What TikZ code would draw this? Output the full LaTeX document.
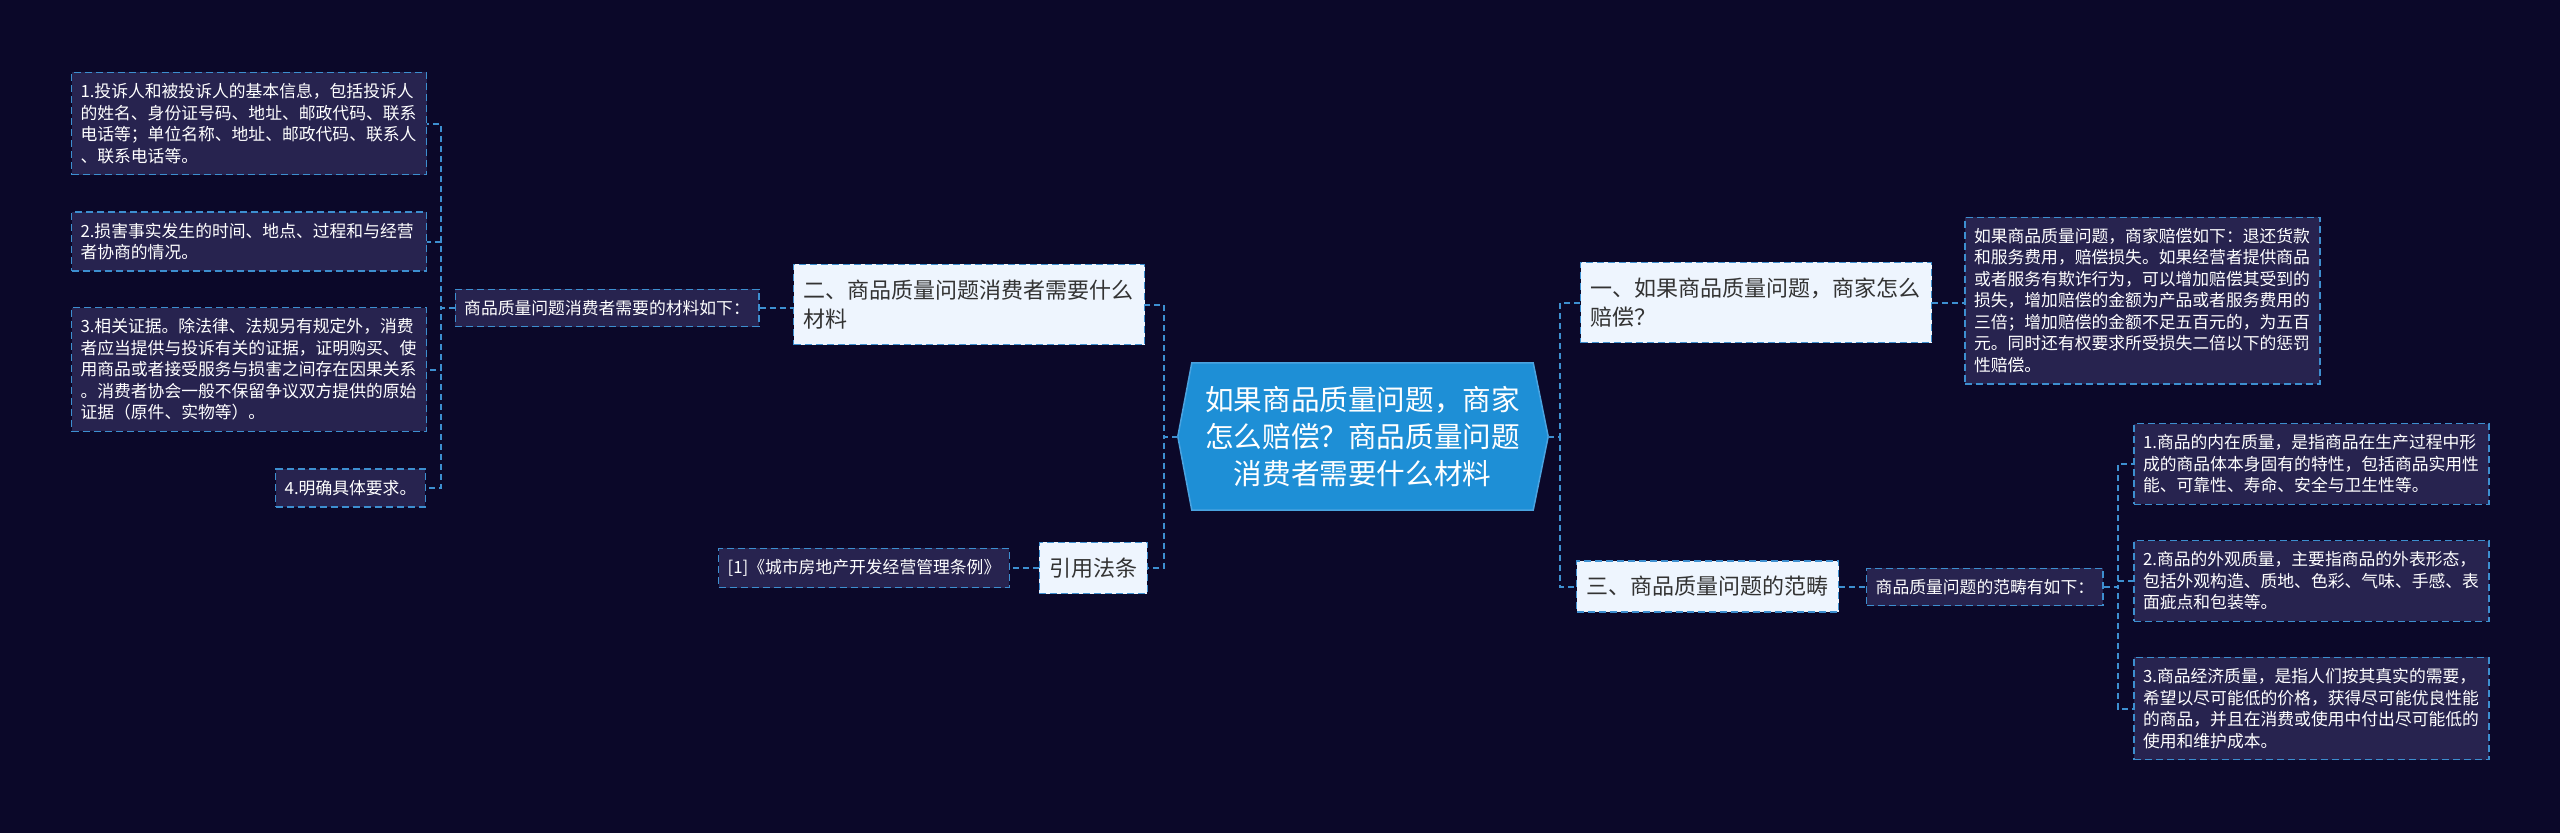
\documentclass[tikz,border=0pt]{standalone}
\usepackage{fontspec}
\setmainfont{Noto Sans CJK SC}
\usetikzlibrary{backgrounds}
\definecolor{bgnavy}{HTML}{0B0829}
\definecolor{leafbg}{HTML}{27234F}
\definecolor{topicbg}{HTML}{EEF5FE}
\definecolor{edgeblue}{HTML}{3D8FD0}
\definecolor{rootblue}{HTML}{1E8FD6}
\definecolor{rootedge}{HTML}{4AA3E0}
\definecolor{topictext}{HTML}{333333}
\begin{document}
\begin{tikzpicture}[x=1pt,y=-1pt,
  leaf/.style={draw=edgeblue,line width=1.4pt,dash pattern=on 7pt off 4pt,fill=leafbg,text=white,font=\fontsize{16.8}{21.5}\selectfont,inner xsep=9pt,inner ysep=11pt,align=left},
  topic/.style={draw=edgeblue,line width=1.4pt,dash pattern=on 7pt off 4pt,fill=topicbg,text=topictext,font=\fontsize{22}{29}\selectfont,inner xsep=10pt,inner ysep=15.5pt,align=left},
  rootnode/.style={text=white,font=\fontsize{28.6}{37}\selectfont,align=center,text width=316pt,minimum width=341pt,minimum height=147pt,inner sep=0pt},
  branch/.style={draw=edgeblue,line width=2pt,dash pattern=on 6pt off 4pt}]
  \useasboundingbox (0,0) rectangle (2560,833);
  \begin{scope}[on background layer]
    \fill[bgnavy] (0,0) rectangle (2560,833);
  \end{scope}
  \node[rootnode] (root) at (1362.5,436.5) {如果商品质量问题，商家\\怎么赔偿？商品质量问题\\消费者需要什么材料};
  \begin{scope}[on background layer]
    \filldraw[fill=rootblue,draw=rootedge,line width=1.5pt] (root.north west) -- (root.north east) -- ([xshift=15pt]root.east) -- (root.south east) -- (root.south west) -- ([xshift=-14pt]root.west) -- cycle;
  \end{scope}
  \coordinate (rootR) at ([xshift=15pt]root.east);
  \coordinate (rootL) at ([xshift=-14pt]root.west);
  \node[topic,text width=331pt] (t1) at (1756,302.5) {一、如果商品质量问题，商家怎么\\赔偿？};
  \node[leaf,text width=337pt] (d1) at (2142.5,300.5) {如果商品质量问题，商家赔偿如下：退还货款\\和服务费用，赔偿损失。如果经营者提供商品\\或者服务有欺诈行为，可以增加赔偿其受到的\\损失，增加赔偿的金额为产品或者服务费用的\\三倍；增加赔偿的金额不足五百元的，为五百\\元。同时还有权要求所受损失二倍以下的惩罚\\性赔偿。};
  \node[topic,anchor=west] (t3) at (1576,586.5) {三、商品质量问题的范畴};
  \node[leaf,anchor=west] (d3) at (1866,587) {商品质量问题的范畴有如下：};
  \node[leaf,text width=337pt] (r1) at (2311.5,464) {1.商品的内在质量，是指商品在生产过程中形\\成的商品体本身固有的特性，包括商品实用性\\能、可靠性、寿命、安全与卫生性等。};
  \node[leaf,text width=337pt] (r2) at (2311.5,581) {2.商品的外观质量，主要指商品的外表形态，\\包括外观构造、质地、色彩、气味、手感、表\\面疵点和包装等。};
  \node[leaf,text width=337pt] (r3) at (2311.5,708.5) {3.商品经济质量，是指人们按其真实的需要，\\希望以尽可能低的价格，获得尽可能优良性能\\的商品，并且在消费或使用中付出尽可能低的\\使用和维护成本。};
  \node[topic,text width=331pt] (t2) at (969,304.5) {二、商品质量问题消费者需要什么\\材料};
  \node[leaf] (mid) at (607,308) {商品质量问题消费者需要的材料如下：};
  \node[leaf,text width=337pt] (l1) at (249,123.5) {1.投诉人和被投诉人的基本信息，包括投诉人\\的姓名、身份证号码、地址、邮政代码、联系\\电话等；单位名称、地址、邮政代码、联系人\\、联系电话等。};
  \node[leaf,text width=337pt] (l2) at (249,241.5) {2.损害事实发生的时间、地点、过程和与经营\\者协商的情况。};
  \node[leaf,text width=337pt] (l3) at (249,369.5) {3.相关证据。除法律、法规另有规定外，消费\\者应当提供与投诉有关的证据，证明购买、使\\用商品或者接受服务与损害之间存在因果关系\\。消费者协会一般不保留争议双方提供的原始\\证据（原件、实物等）。};
  \node[leaf,anchor=east] (l4) at (426,488) {4.明确具体要求。};
  \node[topic,anchor=east] (ref) at (1148,568) {引用法条};
  \node[leaf,anchor=east] (src) at (1010,568) {[1]《城市房地产开发经营管理条例》};
  \draw[branch] (rootR) -- ++(12,0) |- (t1.west);
  \draw[branch] (rootR) -- ++(12,0) |- (t3.west);
  \draw[branch] (rootL) -- ++(-14,0) |- (t2.east);
  \draw[branch] (rootL) -- ++(-14,0) |- (ref.east);
  \draw[branch] (t1.east) -- (t1.east -| d1.west);
  \draw[branch] (t3.east) -- (t3.east -| d3.west);
  \draw[branch] (d3.east) -- ++(14,0) |- (r1.west);
  \draw[branch] (d3.east) -- ++(14,0) |- (r2.west);
  \draw[branch] (d3.east) -- ++(14,0) |- (r3.west);
  \draw[branch] (mid.east) -- (mid.east -| t2.west);
  \draw[branch] (mid.west) -- ++(-14,0) |- (l1.east);
  \draw[branch] (mid.west) -- ++(-14,0) |- (l2.east);
  \draw[branch] (mid.west) -- ++(-14,0) |- (l3.east);
  \draw[branch] (mid.west) -- ++(-14,0) |- (l4.east);
  \draw[branch] (ref.west) -- (ref.west -| src.east);
\end{tikzpicture}
\end{document}
